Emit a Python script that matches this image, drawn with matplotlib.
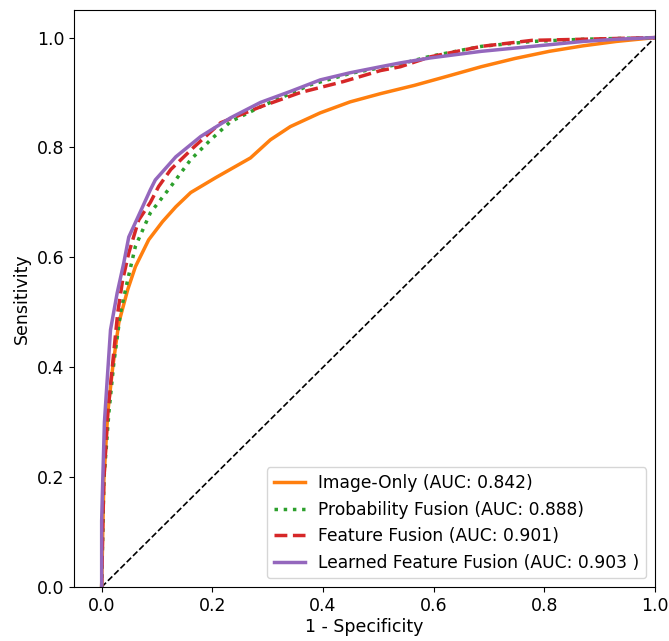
# ROC curves for the four fusion variants
import numpy as np
import matplotlib
matplotlib.use("Agg")
import matplotlib.pyplot as plt

# image-only model
fpr_img = [0, 0.002, 0.004, 0.011, 0.02, 0.031, 0.047, 0.061, 0.085, 0.11, 0.134,
           0.161, 0.206, 0.269, 0.305, 0.341, 0.395, 0.449, 0.504, 0.565, 0.626,
           0.686, 0.747, 0.809, 0.87, 0.93, 1.0]
tpr_img = [0, 0.1, 0.195, 0.317, 0.40, 0.481, 0.541, 0.583, 0.632, 0.665, 0.692,
           0.718, 0.745, 0.781, 0.814, 0.838, 0.863, 0.883, 0.898, 0.913, 0.93,
           0.947, 0.962, 0.975, 0.985, 0.993, 1.0]

# probability fusion
fpr_prob = [0, 0.002, 0.004, 0.013, 0.022, 0.034, 0.047, 0.061, 0.088, 0.125, 0.161,
            0.197, 0.233, 0.287, 0.377, 0.45, 0.54, 0.594, 0.686, 0.778, 0.87, 1.0]
tpr_prob = [0, 0.1, 0.195, 0.317, 0.408, 0.499, 0.559, 0.62, 0.681, 0.729, 0.778,
            0.814, 0.847, 0.874, 0.914, 0.935, 0.952, 0.966, 0.984, 0.993, 0.997, 1.0]

# feature fusion
fpr_feat = [0, 0.002, 0.004, 0.011, 0.02, 0.029, 0.038, 0.049, 0.067, 0.088, 0.103,
            0.125, 0.166, 0.215, 0.287, 0.359, 0.437, 0.504, 0.54, 0.594, 0.686,
            0.778, 0.87, 1.0]
tpr_feat = [0, 0.12, 0.195, 0.317, 0.408, 0.499, 0.559, 0.608, 0.668, 0.70, 0.729,
            0.76, 0.80, 0.845, 0.874, 0.90, 0.92, 0.94, 0.947, 0.965, 0.984,
            0.995, 0.997, 1.0]

# learned feature fusion
fpr_learn = [0, 0.0, 0.002, 0.005, 0.01, 0.016, 0.028, 0.04, 0.049, 0.074, 0.088,
             0.097, 0.134, 0.179, 0.233, 0.287, 0.341, 0.395, 0.449, 0.504, 0.54,
             0.594, 0.686, 0.778, 0.87, 0.93, 1.0]
tpr_learn = [0, 0.12, 0.195, 0.30, 0.377, 0.468, 0.535, 0.59, 0.637, 0.692, 0.723,
             0.741, 0.783, 0.82, 0.854, 0.882, 0.902, 0.923, 0.936, 0.947, 0.954,
             0.963, 0.975, 0.984, 0.993, 0.997, 1.0]

labels = ["Image-Only (AUC: 0.842)",
          "Probability Fusion (AUC: 0.888)",
          "Feature Fusion (AUC: 0.901)",
          "Learned Feature Fusion (AUC: 0.903 )"]

fig = plt.figure(figsize=(6.69, 6.41), dpi=100)
ax = fig.add_axes([0.1106, 0.0842, 0.8684, 0.9])

# chance line
ax.plot([0, 1], [0, 1], 'k--', linewidth=1.2)

ax.plot(fpr_img, tpr_img, color='tab:orange', linestyle='-', linewidth=2.5, label=labels[0])
ax.plot(fpr_prob, tpr_prob, color='tab:green', linestyle=':', linewidth=2.5, label=labels[1])
ax.plot(fpr_feat, tpr_feat, color='tab:red', linestyle='--', linewidth=2.5, label=labels[2])
ax.plot(fpr_learn, tpr_learn, color='tab:purple', linestyle='-', linewidth=2.5, label=labels[3])

ax.set_xlim(-0.05, 1.0)
ax.set_ylim(0.0, 1.05)
ax.set_xticks([0.0, 0.2, 0.4, 0.6, 0.8, 1.0])
ax.set_yticks([0.0, 0.2, 0.4, 0.6, 0.8, 1.0])
ax.tick_params(labelsize=12.5)
ax.set_xlabel("1 - Specificity", fontsize=12.5, labelpad=2)
ax.set_ylabel("Sensitivity", fontsize=12.5)

ax.legend(loc='lower right', fontsize=12.3, handlelength=1.8)

fig.savefig("out.png", dpi=100)
